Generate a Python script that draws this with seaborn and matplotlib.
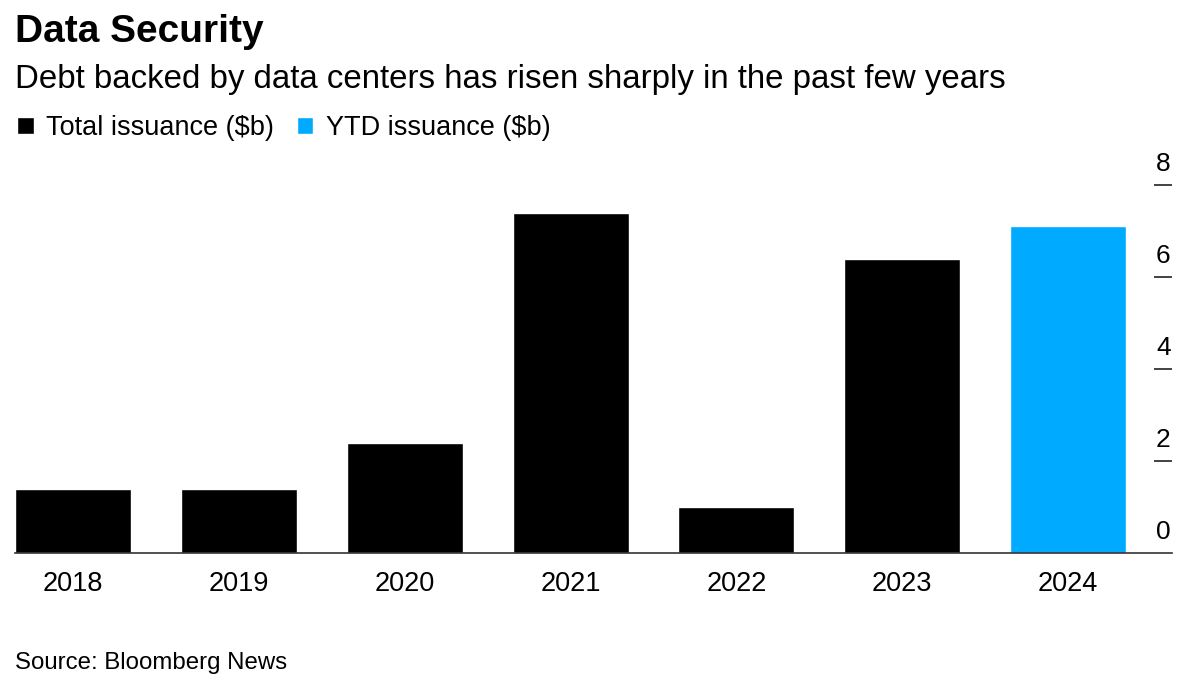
import matplotlib
matplotlib.use('Agg')
import matplotlib.pyplot as plt
import seaborn as sns
import pandas as pd

years = ['2018', '2019', '2020', '2021', '2022', '2023', '2024']
issuance = [1.4, 1.4, 2.4, 7.4, 1.0, 6.4, 7.1]
series = ['Total issuance ($b)'] * 6 + ['YTD issuance ($b)']
colors = {'Total issuance ($b)': '#000000', 'YTD issuance ($b)': '#00aaff'}
y_ticks = [0, 2, 4, 6, 8]

df = pd.DataFrame({'year': years, 'value': issuance, 'series': series})

sns.set_style('white')
plt.rcParams['font.family'] = ['Liberation Sans', 'DejaVu Sans']
plt.rcParams['text.color'] = 'black'
plt.rcParams['xtick.color'] = 'black'

fig = plt.figure(figsize=(12, 6.88), dpi=100)
ax = fig.add_axes([0.0125, 0.1962, 0.9642, 0.5349])

sns.barplot(data=df, x='year', y='value', hue='series', palette=colors,
            dodge=False, width=0.7, saturation=1, ax=ax)

ax.set_xlim(-0.35, 6.627)
ax.set_ylim(0, 8)
ax.set_xlabel('')
ax.set_ylabel('')

for side in ['top', 'left', 'right']:
    ax.spines[side].set_visible(False)
ax.spines['bottom'].set_color('#333333')
ax.spines['bottom'].set_linewidth(1.2)

ax.tick_params(axis='x', length=0, labelsize=19.5, labelcolor='black', pad=13)

# y axis: short dashes on the right with numbers sitting on top
ax.yaxis.tick_right()
ax.set_yticks(y_ticks[1:])
ax.set_yticklabels([])
ax.tick_params(axis='y', direction='in', length=13, width=1.2, color='#222222', pad=0)
for t in y_ticks:
    ax.text(0.9925, t + 0.2, str(t), transform=ax.get_yaxis_transform(),
            ha='center', va='bottom', fontsize=19, color='black')

handles, labels = ax.get_legend_handles_labels()
leg = ax.legend(handles, labels, loc='center left', bbox_to_anchor=(0.014, 0.814),
                bbox_transform=fig.transFigure, ncol=2, frameon=False, fontsize=19.5,
                handlelength=0.62, handleheight=0.62, handletextpad=0.45,
                columnspacing=0.85, borderaxespad=0, borderpad=0)
for txt in leg.get_texts():
    txt.set_color('black')

fig.text(0.0125, 0.953, 'Data Security', fontsize=28, fontweight='bold', va='center')
fig.text(0.0125, 0.884, 'Debt backed by data centers has risen sharply in the past few years',
         fontsize=23.8, va='center')
fig.text(0.0125, 0.036, 'Source: Bloomberg News', fontsize=17.3, va='center')

fig.savefig('out.png', dpi=100)
